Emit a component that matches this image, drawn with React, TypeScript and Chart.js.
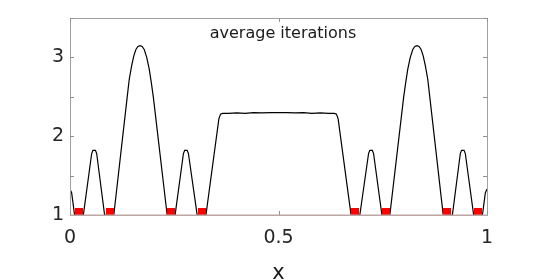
import React, { useEffect, useRef } from 'react';
import { Chart, registerables } from 'chart.js';
Chart.register(...registerables);

const curveX = [
  0.000, 0.004, 0.011, 0.032, 0.052, 0.055, 0.061, 0.064, 0.083, 0.105,
  0.137, 0.142, 0.148, 0.153, 0.158, 0.163, 0.168, 0.173, 0.178, 0.184,
  0.190, 0.195, 0.200, 0.233, 0.252, 0.272, 0.275, 0.281, 0.284, 0.305,
  0.326, 0.357, 0.361, 0.366, 0.380, 0.400, 0.420, 0.440, 0.460, 0.480,
  0.500,
  0.520, 0.540, 0.560, 0.580, 0.600, 0.620, 0.634, 0.639, 0.643, 0.674,
  0.695, 0.716, 0.719, 0.725, 0.728, 0.748, 0.767, 0.800, 0.805, 0.810,
  0.816, 0.822, 0.827, 0.832, 0.837, 0.842, 0.847, 0.852, 0.858, 0.863,
  0.895, 0.917, 0.936, 0.939, 0.945, 0.948, 0.968, 0.989, 0.996, 1.000,
];
const curveY = [
  1.33, 1.28, 1.00, 1.00, 1.78, 1.82, 1.82, 1.78, 1.00, 1.00,
  2.49, 2.72, 2.90, 3.02, 3.10, 3.14, 3.15, 3.14, 3.10, 3.00,
  2.85, 2.68, 2.49, 1.00, 1.00, 1.78, 1.82, 1.82, 1.78, 1.00,
  1.00, 2.22, 2.28, 2.29, 2.29, 2.295, 2.29, 2.30, 2.295, 2.30,
  2.30,
  2.30, 2.295, 2.30, 2.29, 2.295, 2.29, 2.29, 2.28, 2.22, 1.00,
  1.00, 1.78, 1.82, 1.82, 1.78, 1.00, 1.00, 2.49, 2.68, 2.85,
  3.00, 3.10, 3.14, 3.15, 3.14, 3.10, 3.02, 2.90, 2.72, 2.49,
  1.00, 1.00, 1.78, 1.82, 1.82, 1.78, 1.00, 1.00, 1.28, 1.33,
];
const markerX = [0.021, 0.095, 0.243, 0.316, 0.684, 0.757, 0.905, 0.979];
const markerY = [1, 1, 1, 1, 1, 1, 1, 1];
const xTickValues = [0, 0.5, 1];
const xTickLabels = ['0', '0.5', '1'];
const yTickValues = [1, 1.5, 2, 2.5, 3, 3.5];
const yTickLabels = ['1', '', '2', '', '3', ''];
const titleText = 'average iterations';
const xAxisTitle = 'x';

const FONT = "'DejaVu Sans', sans-serif";

export default function App() {
  const ref = useRef<HTMLCanvasElement | null>(null);
  useEffect(() => {
    if (!ref.current) return;
    const sq = document.createElement('canvas');
    sq.width = 8;
    sq.height = 14;
    const sctx = sq.getContext('2d')!;
    sctx.fillStyle = '#ff0000';
    sctx.fillRect(0, 0, 8, 14);

    const framePlugin = {
      id: 'frame',
      afterDraw(chart: any) {
        const { ctx, chartArea: a, scales } = chart;
        const L = Math.round(a.left), R = Math.round(a.right), T = Math.round(a.top), B = Math.round(a.bottom);
        ctx.save();
        ctx.lineWidth = 1;
        ctx.strokeStyle = '#a0a0a0';
        ctx.beginPath();
        ctx.moveTo(L + 0.5, B);
        ctx.lineTo(L + 0.5, T + 0.5);
        ctx.lineTo(R + 0.5, T + 0.5);
        ctx.lineTo(R + 0.5, B);
        ctx.stroke();
        ctx.strokeStyle = '#909090';
        ctx.beginPath();
        yTickValues.forEach((v) => {
          const y = Math.round(scales.y.getPixelForValue(v)) + 0.5;
          ctx.moveTo(L, y); ctx.lineTo(L + 4, y);
          ctx.moveTo(R, y); ctx.lineTo(R - 4, y);
        });
        xTickValues.forEach((v) => {
          const x = Math.round(scales.x.getPixelForValue(v)) + 0.5;
          ctx.moveTo(x, B); ctx.lineTo(x, B - 4);
          ctx.moveTo(x, T); ctx.lineTo(x, T + 4);
        });
        ctx.stroke();
        ctx.strokeStyle = '#bca6a6';
        ctx.lineWidth = 1.5;
        ctx.beginPath();
        ctx.moveTo(L, B + 0.25);
        ctx.lineTo(R + 1, B + 0.25);
        ctx.stroke();
        ctx.fillStyle = '#1a1a1a';
        ctx.font = `16px ${FONT}`;
        ctx.textAlign = 'center';
        ctx.textBaseline = 'alphabetic';
        ctx.fillText(titleText, (a.left + a.right) / 2 + 4.5, a.top + 20);
        ctx.restore();
      },
    };

    const chart = new Chart(ref.current, {
      type: 'scatter',
      data: {
        datasets: [
          {
            data: markerX.map((x, i) => ({ x, y: markerY[i] })),
            showLine: false,
            pointStyle: sq as any,
            pointRadius: 4,
          },
          {
            data: curveX.map((x, i) => ({ x, y: curveY[i] })),
            showLine: true,
            borderColor: '#000000',
            borderWidth: 1.2,
            pointRadius: 0,
            tension: 0,
            fill: false,
          },
        ],
      },
      options: {
        animation: false,
        responsive: false,
        maintainAspectRatio: false,
        layout: { padding: { left: 0, right: 51, top: 18, bottom: 0 } },
        plugins: { legend: { display: false }, tooltip: { enabled: false }, title: { display: false } },
        scales: {
          x: {
            type: 'linear',
            min: 0,
            max: 1,
            grid: { display: false, drawTicks: false },
            border: { display: false },
            afterBuildTicks: (s: any) => { s.ticks = xTickValues.map((v) => ({ value: v })); },
            afterFit: (s: any) => { s.height = 65; },
            ticks: {
              padding: 12,
              color: '#262626',
              font: { family: FONT, size: 19 },
              maxRotation: 0,
              callback: (v: any) => { const i = xTickValues.indexOf(Number(v)); return i >= 0 ? xTickLabels[i] : ''; },
            },
            title: { display: true, text: xAxisTitle, color: '#1a1a1a', font: { family: FONT, size: 21, lineHeight: 1 }, padding: { top: 0, bottom: -4 } },
          },
          y: {
            type: 'linear',
            min: 1,
            max: 3.5,
            grid: { display: false, drawTicks: false },
            border: { display: false },
            afterBuildTicks: (s: any) => { s.ticks = yTickValues.map((v) => ({ value: v })); },
            afterFit: (s: any) => { s.width = 70; },
            ticks: {
              padding: 6,
              color: '#262626',
              font: { family: FONT, size: 19 },
              callback: (v: any) => { const i = yTickValues.indexOf(Number(v)); return i >= 0 ? yTickLabels[i] : ''; },
            },
          },
        },
      },
      plugins: [framePlugin],
    } as any);
    return () => chart.destroy();
  }, []);
  return (
    <div style={{ position: 'fixed', left: 0, top: 0, width: 538, height: 280, background: '#fff' }}>
      <canvas ref={ref} width={538} height={280} style={{ width: 538, height: 280 }} />
    </div>
  );
}
